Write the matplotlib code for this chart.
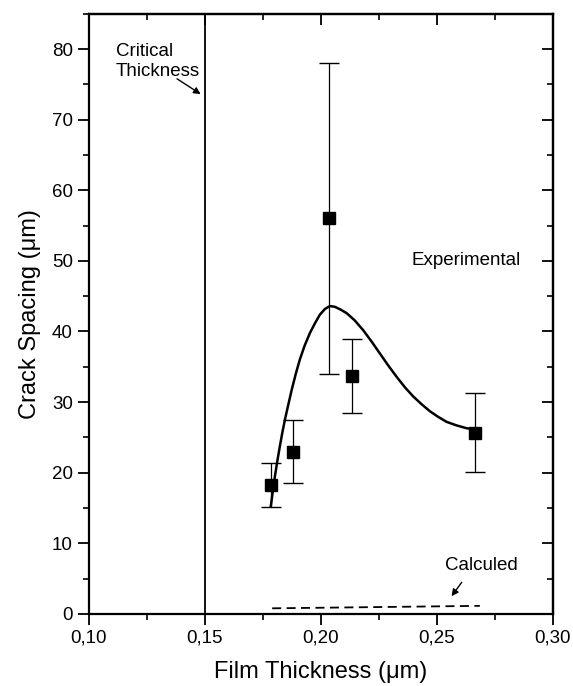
import matplotlib.pyplot as plt
from matplotlib.ticker import MultipleLocator
import numpy as np

plt.rcParams['font.family'] = ['Liberation Sans', 'DejaVu Sans']

# measured crack spacing (um) with error bars
thickness = [0.1783, 0.1880, 0.2033, 0.2135, 0.2664]
spacing = [18.3, 23.0, 56.1, 33.7, 25.6]
err_up = [21.4, 27.4, 78.0, 39.0, 31.3]
err_low = [15.2, 18.6, 34.0, 28.4, 20.1]

# fitted curve
fit_x = [0.1784, 0.1793, 0.1802, 0.1812, 0.1823, 0.1834, 0.1845, 0.1860, 0.1874,
         0.1891, 0.1909, 0.1930, 0.1953, 0.1975, 0.1996, 0.2018, 0.2039, 0.2060,
         0.2085, 0.2111, 0.2145, 0.2182, 0.2218, 0.2254, 0.2290, 0.2326, 0.2362,
         0.2398, 0.2434, 0.2470, 0.2506, 0.2542, 0.2585, 0.2628, 0.2650]
fit_y = [15.2, 17.4, 19.5, 21.6, 23.7, 25.7, 27.5, 29.7, 31.7,
         33.9, 36.0, 38.0, 39.8, 41.2, 42.4, 43.2, 43.6, 43.5,
         43.1, 42.6, 41.6, 40.2, 38.6, 36.9, 35.2, 33.6, 32.1,
         30.8, 29.7, 28.7, 27.9, 27.2, 26.7, 26.3, 26.2]

# calculated spacing
calc_x = [0.179, 0.2685]
calc_y = [0.8, 1.15]

critical = 0.15

fig = plt.figure(figsize=(5.73, 6.86), dpi=100)
ax = fig.add_axes([0.155, 0.105, 0.81, 0.875])

yerr = [np.array(spacing) - np.array(err_low), np.array(err_up) - np.array(spacing)]
ax.errorbar(thickness, spacing, yerr=yerr, fmt='s', color='black', ms=8,
            ecolor='black', elinewidth=0.9, capsize=7, capthick=1.0)
ax.plot(fit_x, fit_y, '-', color='black', lw=1.8)
ax.plot(calc_x, calc_y, '--', color='black', lw=1.3, dashes=(5, 3))
ax.axvline(critical, color='black', lw=1.3)

ax.text(0.1115, 76.2, 'Critical\nThickness', fontsize=13.5, linespacing=1.25)
ax.annotate('', xy=(0.1492, 73.4), xytext=(0.137, 76.0),
            arrowprops=dict(arrowstyle='-|>', color='black', lw=1.0, mutation_scale=10))
ax.text(0.239, 50.1, 'Experimental', fontsize=13.5, va='center')
ax.text(0.2535, 6.9, 'Calculed', fontsize=13.5, va='center')
ax.annotate('', xy=(0.2556, 2.2), xytext=(0.2614, 4.8),
            arrowprops=dict(arrowstyle='-|>', color='black', lw=1.0, mutation_scale=10))

ax.set_xlim(0.10, 0.30)
ax.set_ylim(0, 85)
ax.xaxis.set_major_locator(MultipleLocator(0.05))
ax.xaxis.set_minor_locator(MultipleLocator(0.025))
ax.yaxis.set_major_locator(MultipleLocator(10))
ax.yaxis.set_minor_locator(MultipleLocator(5))
ax.xaxis.set_major_formatter(plt.FuncFormatter(lambda v, p: ('%.2f' % v).replace('.', ',')))
ax.tick_params(axis='both', which='major', labelsize=13.5, length=8, width=1.3, direction='out')
ax.tick_params(axis='both', which='minor', length=4, width=1.2, direction='out')
ax.tick_params(top=False, right=False, which='both')

# top and right ticks point inward
sec_x = ax.secondary_xaxis('top')
sec_x.xaxis.set_major_locator(MultipleLocator(0.05))
sec_x.xaxis.set_minor_locator(MultipleLocator(0.025))
sec_x.tick_params(which='major', direction='in', length=8, width=1.3, labeltop=False)
sec_x.tick_params(which='minor', direction='in', length=4, width=1.2)
sec_y = ax.secondary_yaxis('right')
sec_y.yaxis.set_major_locator(MultipleLocator(10))
sec_y.yaxis.set_minor_locator(MultipleLocator(5))
sec_y.tick_params(which='major', direction='in', length=8, width=1.3, labelright=False)
sec_y.tick_params(which='minor', direction='in', length=4, width=1.2)

for s in ax.spines.values():
    s.set_linewidth(1.6)
sec_x.spines['top'].set_linewidth(1.6)
sec_y.spines['right'].set_linewidth(1.6)

ax.set_xlabel('Film Thickness (\u03bcm)', fontsize=17, labelpad=10)
ax.set_ylabel('Crack Spacing (\u03bcm)', fontsize=17, labelpad=8)

fig.savefig('out.png', dpi=100)
